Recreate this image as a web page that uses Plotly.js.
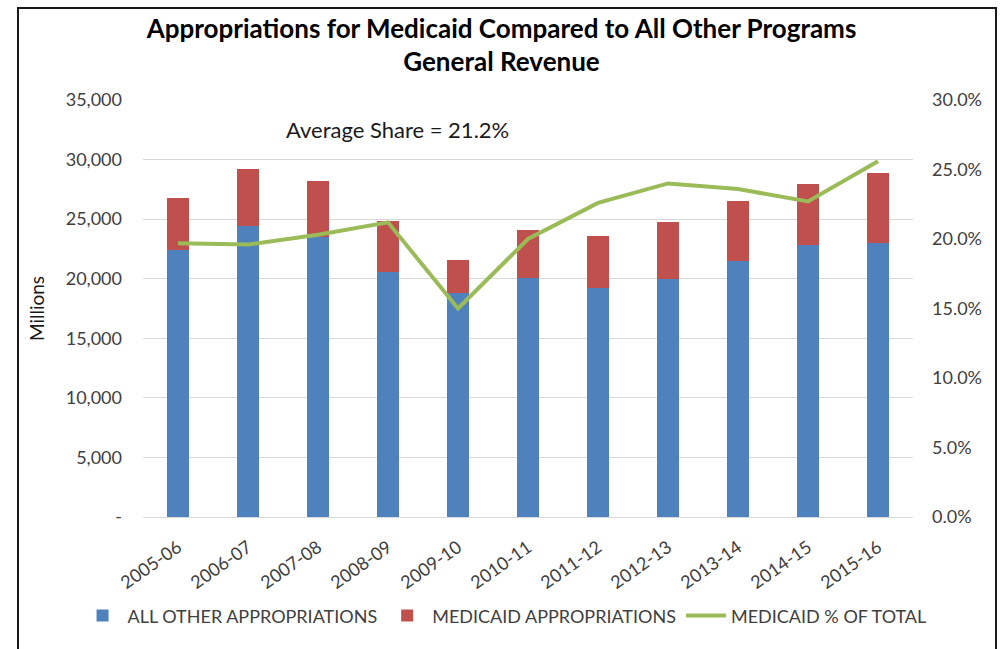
<!DOCTYPE html>
<html>
<head>
<meta charset="utf-8">
<script src="https://cdn.plot.ly/plotly-3.0.1.min.js"></script>
<style>
  html, body { margin: 0; padding: 0; background: #fff; }
  #wrap { position: relative; width: 1003px; height: 649px; overflow: hidden; }
  #chart { width: 1003px; height: 649px; }
  #frame { position: absolute; left: 17px; top: 7px; width: 976px; height: 660px;
           border: 2px solid #1a1a1a; pointer-events: none; }
</style>
</head>
<body>
<div id="wrap">
  <div id="chart"></div>
  <div id="frame"></div>
</div>
<script>
const years = ["2005-06","2006-07","2007-08","2008-09","2009-10","2010-11","2011-12","2012-13","2013-14","2014-15","2015-16"];
const allOther = [22400, 24400, 23500, 20550, 18800, 20050, 19250, 19950, 21450, 22800, 23000];
const medicaid = [4350, 4800, 4700, 4300, 2800, 4000, 4350, 4800, 5100, 5150, 5900];
const medicaidPct = [19.7, 19.6, 20.3, 21.2, 15.0, 20.0, 22.6, 24.0, 23.6, 22.7, 25.6];
const leftTicks = [0, 5000, 10000, 15000, 20000, 25000, 30000, 35000];
const leftTickText = ["-", "5,000", "10,000", "15,000", "20,000", "25,000", "30,000", "35,000"];
const rightTicks = [0, 5, 10, 15, 20, 25, 30];
const rightTickText = ["0.0%", "5.0%", "10.0%", "15.0%", "20.0%", "25.0%", "30.0%"];
const avgText = "Average Share = 21.2%";

const font = "Lato, 'Open Sans', sans-serif";
const txt = "#404040";

const traces = [
  { type: "bar", name: "ALL OTHER APPROPRIATIONS", x: years, y: allOther,
    marker: { color: "#4F81BD" }, hoverinfo: "x+y" },
  { type: "bar", name: "MEDICAID APPROPRIATIONS", x: years, y: medicaid,
    marker: { color: "#C0504D" }, hoverinfo: "x+y" },
  { type: "scatter", mode: "lines", name: "MEDICAID % OF TOTAL", x: years, y: medicaidPct,
    yaxis: "y2", line: { color: "#9BBB59", width: 4 } }
];

const layout = {
  width: 1003, height: 649,
  margin: { l: 143, r: 90, t: 100, b: 132, autoexpand: false },
  paper_bgcolor: "#fff", plot_bgcolor: "#fff",
  barmode: "stack", bargap: 0.686,
  font: { family: font, size: 18, color: txt },
  title: {
    text: "<b>Appropriations for Medicaid Compared to All Other Programs<br>General Revenue</b>",
    font: { family: font, size: 26, color: "#000" },
    x: 0.5, xanchor: "center", y: 0.942, yanchor: "top"
  },
  xaxis: {
    type: "category", tickangle: -35, showgrid: false, zeroline: false,
    showline: true, linecolor: "#D9D9D9", linewidth: 1, ticks: "",
    ticklabelstandoff: 12,
    tickfont: { family: font, size: 18, color: txt }
  },
  yaxis: {
    range: [0, 35000], tickvals: leftTicks, ticktext: leftTickText,
    showgrid: true, gridcolor: "#D9D9D9", gridwidth: 1, zeroline: false,
    showline: false, ticks: "", ticklen: 0, ticklabelstandoff: 20,
    tickfont: { family: font, size: 18, color: txt },
    title: { text: "Millions", font: { family: font, size: 19, color: "#1a1a1a" }, standoff: 16 }
  },
  yaxis2: {
    overlaying: "y", side: "right", range: [0, 30],
    tickvals: rightTicks, ticktext: rightTickText,
    showgrid: false, zeroline: false, showline: false, ticks: "", ticklabelstandoff: 18,
    tickfont: { family: font, size: 18, color: txt }
  },
  legend: {
    orientation: "h", x: -0.085, xanchor: "left", y: -0.237, yanchor: "middle",
    font: { family: font, size: 18, color: txt }, traceorder: "normal",
    itemwidth: 40
  },
  annotations: [{
    text: avgText, xref: "paper", yref: "paper", x: 0.331, y: 0.93,
    xanchor: "center", yanchor: "middle", showarrow: false,
    font: { family: font, size: 22, color: "#1a1a1a" }
  }]
};

Plotly.newPlot("chart", traces, layout, { displayModeBar: false, staticPlot: true });
</script>
</body>
</html>
